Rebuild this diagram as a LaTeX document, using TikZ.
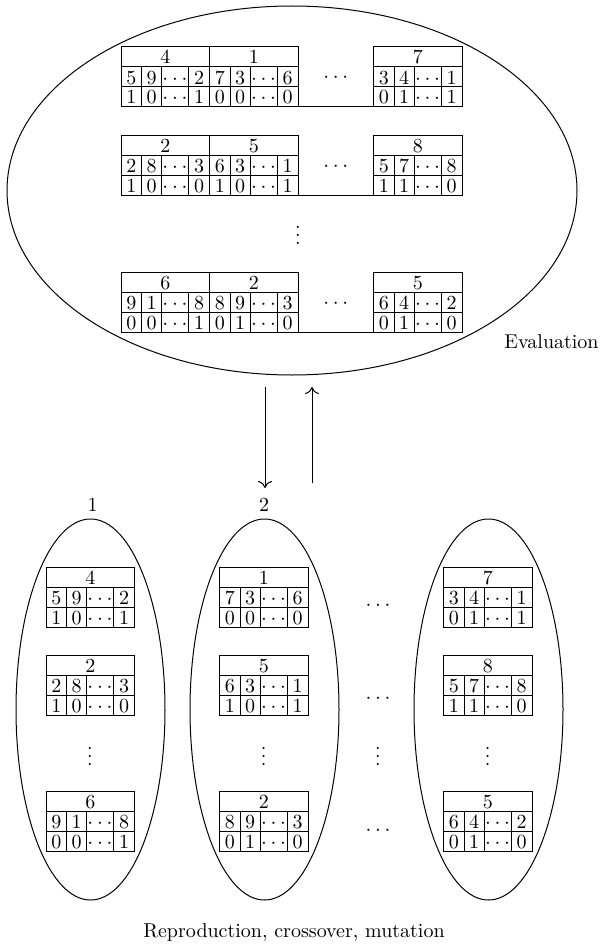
\documentclass[tikz,border=0pt]{standalone}
\usepackage{mathpazo}
\usetikzlibrary{shapes.geometric,arrows.meta}
\tikzset{
  rule/.style={line width=0.5pt},
  cell/.style={inner sep=0pt, anchor=base},
  pop/.style={draw, ellipse, line width=0.5pt, inner sep=0pt},
  lbl/.style={inner sep=0pt},
  flow/.style={line width=0.5pt, -{To[length=3.5pt,width=7pt]}}
}
% #1 name, #2 top-left, #3 header, #4 #5 #6 first row, #7 #8 #9 second row
\newcommand{\chrom}[9]{%
  \begin{scope}[shift={#2}]
    \draw[rule] (0,0) rectangle (88.5,60);
    \draw[rule] (0,20) -- (88.5,20) (0,40) -- (88.5,40)
      (20.5,20) -- (20.5,60) (40.5,20) -- (40.5,60) (67.5,20) -- (67.5,60);
    \node[cell] (#1h) at (44.25,17) {#3};
    \node[cell] (#1a) at (10.25,37) {#4};
    \node[cell] (#1b) at (30.5,37) {#5};
    \node[cell] (#1c) at (54,37) {$\cdots$};
    \node[cell] (#1d) at (78,37) {#6};
    \node[cell] (#1e) at (10.25,57) {#7};
    \node[cell] (#1f) at (30.5,57) {#8};
    \node[cell] (#1g) at (54,57) {$\cdots$};
    \node[cell] (#1i) at (78,57) {#9};
  \end{scope}}
\begin{document}
\begin{tikzpicture}[x=0.5pt,y=-0.5pt]
\useasboundingbox (0,0) rectangle (600,947);
% populations
\node[pop, minimum width=285pt, minimum height=184.5pt] (big) at (292,190.5) {};
\node[pop, minimum width=74.5pt, minimum height=190.5pt] (e1) at (90.5,709.5) {};
\node[pop, minimum width=74.5pt, minimum height=190.5pt] (e2) at (264.5,709.5) {};
\node[pop, minimum width=74.5pt, minimum height=190.5pt] (e3) at (488.5,709.5) {};
% top population rows
\chrom{ta}{(121,47)}{4}{5}{9}{2}{1}{0}{1}
\chrom{tb}{(209.5,47)}{1}{7}{3}{6}{0}{0}{0}
\chrom{tc}{(373.5,47)}{7}{3}{4}{1}{0}{1}{1}
\draw[rule] (298,107) -- (373.5,107);
\node[cell] (tdots) at (335.75,83) {$\cdots$};
\chrom{ua}{(121,135)}{2}{2}{8}{3}{1}{0}{0}
\chrom{ub}{(209.5,135)}{5}{6}{3}{1}{1}{0}{1}
\chrom{uc}{(373.5,135)}{8}{5}{7}{8}{1}{1}{0}
\draw[rule] (298,195) -- (373.5,195);
\node[cell] (udots) at (335.75,171) {$\cdots$};
\node[cell] (vdots) at (298,244) {$\vdots$};
\chrom{wa}{(121,272)}{6}{9}{1}{8}{0}{0}{1}
\chrom{wb}{(209.5,272)}{2}{8}{9}{3}{0}{1}{0}
\chrom{wc}{(373.5,272)}{5}{6}{4}{2}{0}{1}{0}
\draw[rule] (298,332) -- (373.5,332);
\node[cell] (wdots) at (335.75,308) {$\cdots$};
\node[lbl, anchor=west] (eval) at (504,342) {Evaluation};
% arrows
\coordinate (d1) at (265,387);
\coordinate (d2) at (265,488);
\coordinate (u1) at (312,483);
\coordinate (u2) at (312,387);
\draw[flow] (d1) -- (d2);
\draw[flow] (u1) -- (u2);
% labels
\node[lbl] (l1) at (92.5,505) {1};
\node[lbl] (l2) at (264,505) {2};
% bottom subpopulations
\chrom{aa}{(46,567)}{4}{5}{9}{2}{1}{0}{1}
\chrom{ab}{(46,655)}{2}{2}{8}{3}{1}{0}{0}
\chrom{ac}{(46,791)}{6}{9}{1}{8}{0}{0}{1}
\chrom{ba}{(219.5,567)}{1}{7}{3}{6}{0}{0}{0}
\chrom{bb}{(219.5,655)}{5}{6}{3}{1}{1}{0}{1}
\chrom{bc}{(219.5,791)}{2}{8}{9}{3}{0}{1}{0}
\chrom{ca}{(443.5,567)}{7}{3}{4}{1}{0}{1}{1}
\chrom{cb}{(443.5,655)}{8}{5}{7}{8}{1}{1}{0}
\chrom{cc}{(443.5,791)}{5}{6}{4}{2}{0}{1}{0}
\node[cell] (av) at (90,765) {$\vdots$};
\node[cell] (bv) at (263.75,765) {$\vdots$};
\node[cell] (cv) at (487.75,765) {$\vdots$};
\node[cell] (mv) at (378,765) {$\vdots$};
\node[cell] (m1) at (378,610) {$\cdots$};
\node[cell] (m2) at (378,703) {$\cdots$};
\node[cell] (m3) at (378,835) {$\cdots$};
\node[lbl] (repro) at (294,932) {Reproduction, crossover, mutation};
\end{tikzpicture}
\end{document}
